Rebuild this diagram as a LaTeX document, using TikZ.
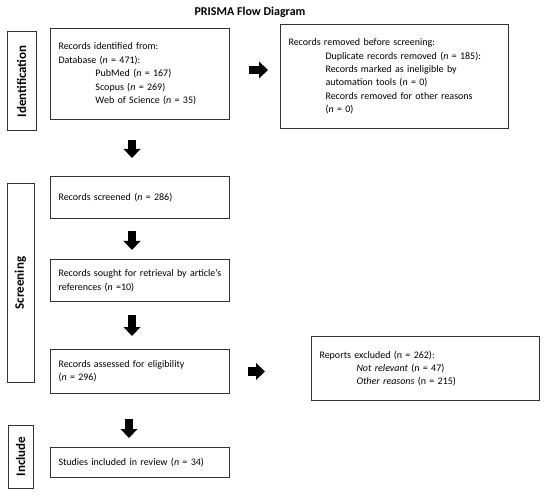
\documentclass[tikz,border=0pt]{standalone}
\usepackage{fontspec}
\setmainfont{Carlito}
\usetikzlibrary{arrows.meta}

\begin{document}
\begin{tikzpicture}[x=1pt,y=-1pt,box/.style={draw=black!80,line width=1pt,anchor=north west,align=left,inner xsep=8pt,font=\fontsize{10}{13.4}\selectfont},side/.style={draw=black!80,line width=1pt,rotate=90,inner sep=0pt,font=\fontsize{13}{15}\selectfont\bfseries},block/.style={line width=8.5pt,-{Triangle[width=17pt,length=9pt,line width=0pt]}}]
  \useasboundingbox (0,0) rectangle (550,495);

  \node[font=\fontsize{12}{14}\selectfont\bfseries] (title) at (250,12) {PRISMA Flow Diagram};

  % stage labels
  \node[side,minimum width=99pt,minimum height=29pt] (idlab) at (21.5,81.5) {Identification};
  \node[side,minimum width=198pt,minimum height=27pt] (scrlab) at (20.5,283) {Screening};
  \node[side,minimum width=63pt,minimum height=25pt] (inclab) at (20.5,456.5) {Include};

  % boxes
  \node[box,minimum width=179pt,minimum height=91pt,text width=163pt] (ident) at (50,28) {Records identified from:\\Database (\textit{n} = 471):\\\hspace*{37pt}PubMed (\textit{n} = 167)\\\hspace*{37pt}Scopus (\textit{n} = 269)\\\hspace*{37pt}Web of Science (\textit{n} = 35)};
  \node[box,minimum width=228pt,minimum height=104pt,text width=212pt] (removed) at (280,24) {Records removed before screening:\\\hspace*{37pt}Duplicate records removed (\textit{n} = 185):\\\hspace*{37pt}Records marked as ineligible by\\\hspace*{37pt}automation tools (\textit{n} = 0)\\\hspace*{37pt}Records removed for other reasons\\\hspace*{37pt}(\textit{n} = 0)};
  \node[box,minimum width=179pt,minimum height=42pt,text width=163pt] (screened) at (50,176) {Records screened (\textit{n} = 286)};
  \node[box,minimum width=179pt,minimum height=42pt,text width=163pt] (sought) at (50,259) {Records sought for retrieval by article's\\references (\textit{n} =10)};
  \node[box,minimum width=179pt,minimum height=44pt,text width=163pt] (assessed) at (50,349) {Records assessed for eligibility\\(\textit{n} = 296)};
  \node[box,minimum width=179pt,minimum height=30pt,text width=163pt] (studies) at (50,447) {Studies included in review (\textit{n} = 34)};
  \node[box,minimum width=228pt,minimum height=64pt,text width=212pt] (excluded) at (311,336) {Reports excluded (n = 262):\\\hspace*{37pt}\textit{Not relevant} (n = 47)\\\hspace*{37pt}\textit{Other reasons} (n = 215)};

  % arrows
  \draw[block,shorten <=20pt,shorten >=18pt] ([xshift=-8pt]ident.south) -- ([xshift=-8pt]screened.north);
  \draw[block,shorten <=12pt,shorten >=9pt] ([xshift=-8pt]screened.south) -- ([xshift=-8pt]sought.north);
  \draw[block,shorten <=13pt,shorten >=13pt] ([xshift=-8pt]sought.south) -- ([xshift=-8pt]assessed.north);
  \draw[block,shorten <=25pt,shorten >=9pt] ([xshift=-11pt]assessed.south) -- ([xshift=-11pt]studies.north);
  \draw[block,shorten <=19pt,shorten >=12pt] ([yshift=4pt]ident.east) -- ([yshift=4pt]ident.east -| removed.west);
  \draw[block,shorten <=18pt,shorten >=46pt] (assessed.east) -- (assessed.east -| excluded.west);
\end{tikzpicture}
\end{document}
